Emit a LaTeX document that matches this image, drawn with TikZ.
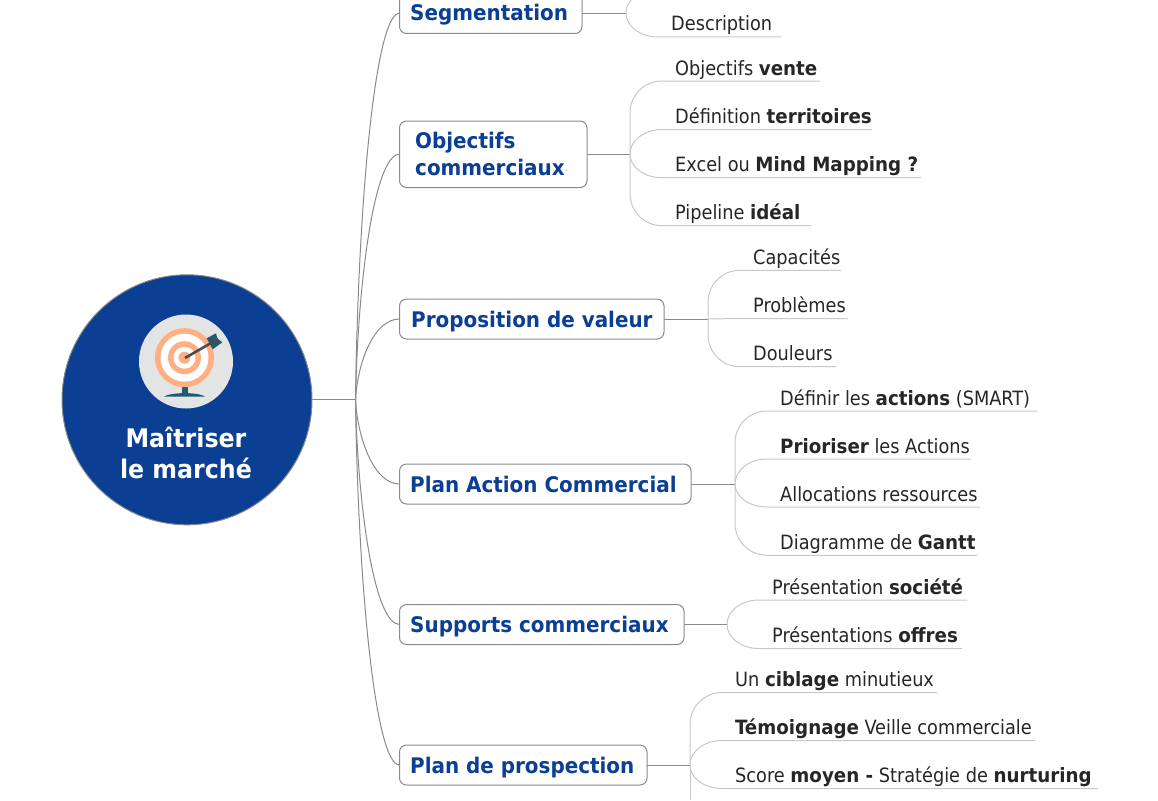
\documentclass[tikz,border=0pt]{standalone}
\usepackage{fontspec}
\setmainfont[BoldFeatures={FakeStretch=1.03}]{DejaVu Sans Condensed}
\definecolor{navy}{HTML}{0B3F94}
\definecolor{linkgray}{HTML}{8A8A8A}
\definecolor{subgray}{HTML}{C8C8C8}
\definecolor{subtext}{HTML}{262626}
\definecolor{tgray}{HTML}{E3E5E4}
\definecolor{torange}{HTML}{FFAF82}
\definecolor{tteal}{HTML}{1F5A70}
\tikzset{
  branchbox/.style={draw=linkgray,fill=white,rounded corners=7pt,line width=1pt,inner sep=0pt,outer sep=0pt,anchor=north west},
  branchtext/.style={text=navy,font=\fontsize{21.5}{27}\selectfont\bfseries,inner sep=0pt,anchor=base west,align=left},
  subtext/.style={text=subtext,font=\fontsize{19.7}{23}\selectfont,inner sep=0pt,anchor=base west},
  mainlink/.style={draw=linkgray,line width=1pt},
  sublink/.style={draw=subgray,line width=1pt},
}
% name, left, top, right, bottom
\newcommand\branch[5]{%
  \pgfmathsetmacro\bw{#4-#2}\pgfmathsetmacro\bh{#5-#3}%
  \node[branchbox,minimum width=\bw pt,minimum height=\bh pt] (#1) at (#2,#3) {};
  \pgfmathsetmacro\by{(#3+#5)/2}%
  \draw[mainlink] (hub) .. controls (358,{399+(\by-399)*0.5}) and (375,\by) .. (#1.west);
}
\begin{document}
\begin{tikzpicture}[x=1pt,y=-1pt]
\useasboundingbox (0,0) rectangle (1158,800);
\clip (0,0) rectangle (1158,800);
% central topic
\node[circle,draw=linkgray,fill=navy,line width=1pt,outer sep=0pt,minimum size=250pt,inner sep=0pt] (root) at (187,399.8) {};
\coordinate (hub) at (355.5,399.8);
\draw[mainlink] (root.east) -- (hub);
% target icon
\fill[tgray] (186,361.5) circle (47);
\fill[tteal] (182.3,386) rectangle (187.7,394);
\fill[tteal] (164,396.5) .. controls (172,392) and (198,392) .. (205,396.5) -- cycle;
\fill[torange] (184.5,357.7) circle (29.5);
\fill[white] (184.5,357.7) circle (24);
\fill[torange] (184.5,357.7) circle (16.5);
\fill[white] (184.5,357.7) circle (11);
\fill[torange] (184.5,357.7) circle (6);
\fill[tteal] (206.7,338.3) -- (216,333.3) -- (217.3,338.3) -- (222.3,342.3) -- (212.7,349.3) -- (210,344.3) -- cycle;
\draw[color=black!70,line width=2.6pt] (185,358) -- (218,339);
\node[text=white,font=\fontsize{25.6}{31}\selectfont\bfseries,align=center,inner sep=0pt] (title) at (186,453) {Maîtriser\\le marché};
% branches
\branch{seg}{399.5}{-7}{582}{33.5}
\branch{obj}{399.5}{121}{587}{187.5}
\branch{prop}{399.5}{299}{664}{339}
\branch{pac}{399.5}{464}{691}{504}
\branch{sup}{399.5}{604.5}{684}{644.5}
\branch{pros}{399.5}{745}{647}{785}
\node[branchtext] (segt) at (410,21) {Segmentation};
\node[branchtext,anchor=north west] (objt) at (415,131.5) {Objectifs\\commerciaux};
\node[branchtext] (propt) at (411,327) {Proposition de valeur};
\node[branchtext] (pact) at (410,492) {Plan Action Commercial};
\node[branchtext] (supt) at (410,632) {Supports commerciaux};
\node[branchtext] (prost) at (410,773) {Plan de prospection};
% junctions
\coordinate (jseg) at (626,13.25);
\coordinate (jobj) at (630,154.25);
\coordinate (jprop) at (708,319);
\coordinate (jpac) at (735,484);
\coordinate (jsup) at (727,624.5);
\coordinate (jpros) at (690,765);
\draw[mainlink] (seg.east) -- (jseg);
\draw[mainlink] (obj.east) -- (jobj);
\draw[mainlink] (prop.east) -- (jprop);
\draw[mainlink] (pac.east) -- (jpac);
\draw[mainlink] (sup.east) -- (jsup);
\draw[mainlink] (pros.east) -- (jpros);
% sub topics
\foreach \nm/\jn/\jx/\jy/\tx/\ly/\ex/\tt in {
  s0/jseg/626/13/671/-11/781/{},
  s1/jseg/626/13/671/37/781/{Description},
  o1/jobj/630/154/675/81/820/{Objectifs \textbf{vente}},
  o2/jobj/630/154/675/129.5/872/{Définition \textbf{territoires}},
  o3/jobj/630/154/675/177.7/921/{Excel ou \textbf{Mind Mapping ?}},
  o4/jobj/630/154/675/225.7/811/{Pipeline \textbf{idéal}},
  p1/jprop/708/319/753/270.3/841/{Capacités},
  p2/jprop/708/319/753/318.7/848/{Problèmes},
  p3/jprop/708/319/753/366.7/836/{Douleurs},
  a1/jpac/735/484/780/411/1037/{Définir les \textbf{actions} (SMART)},
  a2/jpac/735/484/780/459/971/{\textbf{Prioriser} les Actions},
  a3/jpac/735/484/780/507/980/{Allocations ressources},
  a4/jpac/735/484/780/555.3/977/{Diagramme de \textbf{Gantt}},
  c1/jsup/727/624.5/772/600/967/{Présentation \textbf{société}},
  c2/jsup/727/624.5/772/648.5/962/{Présentations \textbf{offres}},
  r1/jpros/690/765/735/692.5/937/{Un \textbf{ciblage} minutieux},
  r2/jpros/690/765/735/740.5/1035/{\textbf{Témoignage} Veille commerciale},
  r3/jpros/690/765/735/788.5/1098/{Score \textbf{moyen -} Stratégie de \textbf{nurturing}}%
}{
  \pgfmathsetmacro\sgn{\ly<\jy ? -1 : 1}
  \pgfmathsetmacro\dist{abs(\ly-\jy)}
  \pgfmathsetmacro\rad{min(\dist,32)}
  \coordinate (\nm s) at (\jx+32,\ly);
  \coordinate (\nm e) at (\ex,\ly);
  \node[subtext] (\nm) at (\tx,\ly-6) {\tt};
  \draw[sublink] (\jn) -- (\jx,\ly-\sgn*\rad) .. controls (\jx,\ly-\sgn*\rad*0.45) and (\jx+14,\ly) .. (\nm s) -- (\nm e);
}
\coordinate (bottomend) at (690,800);
\draw[sublink] (jpros) -- (bottomend);
\end{tikzpicture}
\end{document}
